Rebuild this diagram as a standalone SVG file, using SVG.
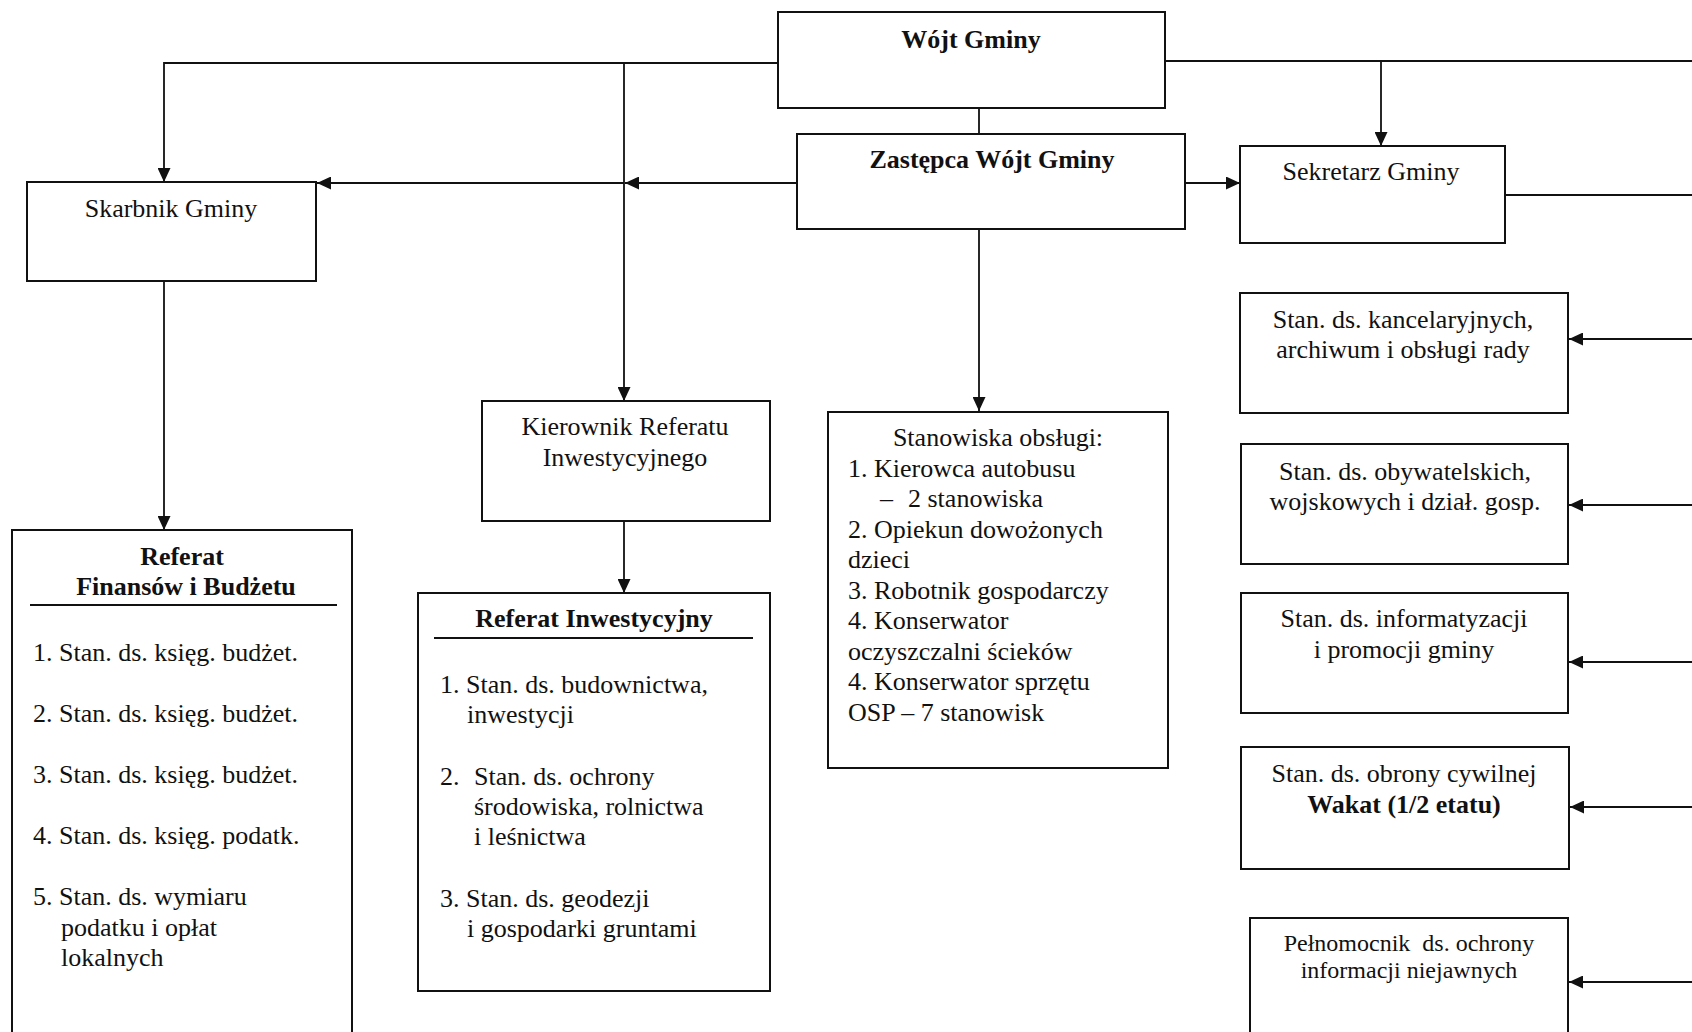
<svg xmlns="http://www.w3.org/2000/svg" width="1692" height="1032" viewBox="0 0 1692 1032">
<style>
  .box { fill: #fff; stroke: #111; stroke-width: 2; }
  .t { font-family: "Liberation Serif", "Times New Roman", serif; font-size: 26px; fill: #111; }
  .c { text-anchor: middle; }
  .b { font-weight: bold; }
  .s { font-size: 24px; }
  .ln { fill: none; stroke: #111; stroke-width: 1.8; }
  .ul { stroke: #111; stroke-width: 1.8; }
</style>
<defs>
  <marker id="ah" markerUnits="userSpaceOnUse" markerWidth="15" markerHeight="13" refX="14" refY="6.5" orient="auto">
    <path d="M0,0 L14,6.5 L0,13 z" fill="#111"/>
  </marker>
</defs>
<rect width="1692" height="1032" fill="#fff"/>

<g id="connectors">
  <path class="ln" d="M778,63 H164 V182" marker-end="url(#ah)"/>
  <path class="ln" d="M624,63 V401" marker-end="url(#ah)"/>
  <path class="ln" d="M1165,61 H1692"/>
  <path class="ln" d="M1381,61 V146" marker-end="url(#ah)"/>
  <path class="ln" d="M979,108 V134"/>
  <path class="ln" d="M797,183 H625" marker-end="url(#ah)"/>
  <path class="ln" d="M624,183 H317" marker-end="url(#ah)"/>
  <path class="ln" d="M1185,183 H1240" marker-end="url(#ah)"/>
  <path class="ln" d="M979,229 V411" marker-end="url(#ah)"/>
  <path class="ln" d="M164,281 V530" marker-end="url(#ah)"/>
  <path class="ln" d="M624,521 V593" marker-end="url(#ah)"/>
  <path class="ln" d="M1505,195 H1692"/>
  <path class="ln" d="M1692,339 H1569" marker-end="url(#ah)"/>
  <path class="ln" d="M1692,505 H1569" marker-end="url(#ah)"/>
  <path class="ln" d="M1692,662 H1569" marker-end="url(#ah)"/>
  <path class="ln" d="M1692,807 H1570" marker-end="url(#ah)"/>
  <path class="ln" d="M1692,982 H1569" marker-end="url(#ah)"/>
</g>

<g id="wojt">
  <rect class="box" x="778" y="12" width="387" height="96"/>
  <text class="t c b" x="971" y="48">Wójt Gminy</text>
</g>

<g id="zastepca">
  <rect class="box" x="797" y="134" width="388" height="95"/>
  <text class="t c b" x="992" y="168">Zastępca Wójt Gminy</text>
</g>

<g id="sekretarz">
  <rect class="box" x="1240" y="146" width="265" height="97"/>
  <text class="t c" x="1371" y="180">Sekretarz Gminy</text>
</g>

<g id="skarbnik">
  <rect class="box" x="27" y="182" width="289" height="99"/>
  <text class="t c" x="171" y="217">Skarbnik Gminy</text>
</g>

<g id="kierownik">
  <rect class="box" x="482" y="401" width="288" height="120"/>
  <text class="t c" x="625" y="435">Kierownik Referatu</text>
  <text class="t c" x="625" y="466">Inwestycyjnego</text>
</g>

<g id="stanowiska-obslugi">
  <rect class="box" x="828" y="412" width="340" height="356"/>
  <text class="t c" x="998" y="446">Stanowiska obsługi:</text>
  <text class="t" x="848" y="477">1. Kierowca autobusu</text>
  <text class="t" x="880" y="507">–<tspan x="908">2 stanowiska</tspan></text>
  <text class="t" x="848" y="538">2. Opiekun dowożonych</text>
  <text class="t" x="848" y="568">dzieci</text>
  <text class="t" x="848" y="599">3. Robotnik gospodarczy</text>
  <text class="t" x="848" y="629">4. Konserwator</text>
  <text class="t" x="848" y="660">oczyszczalni ścieków</text>
  <text class="t" x="848" y="690">4. Konserwator sprzętu</text>
  <text class="t" x="848" y="721">OSP – 7 stanowisk</text>
</g>

<g id="referat-finansow">
  <rect class="box" x="12" y="530" width="340" height="520"/>
  <text class="t c b" x="182" y="565">Referat</text>
  <text class="t c b" x="186" y="595">Finansów i Budżetu</text>
  <line class="ul" x1="30" y1="605" x2="337" y2="605"/>
  <text class="t" x="33" y="661">1. Stan. ds. księg. budżet.</text>
  <text class="t" x="33" y="722">2. Stan. ds. księg. budżet.</text>
  <text class="t" x="33" y="783">3. Stan. ds. księg. budżet.</text>
  <text class="t" x="33" y="844">4. Stan. ds. księg. podatk.</text>
  <text class="t" x="33" y="905">5. Stan. ds. wymiaru</text>
  <text class="t" x="61" y="936">podatku i opłat</text>
  <text class="t" x="61" y="966">lokalnych</text>
</g>

<g id="referat-inwestycyjny">
  <rect class="box" x="418" y="593" width="352" height="398"/>
  <text class="t c b" x="594" y="627">Referat Inwestycyjny</text>
  <line class="ul" x1="434" y1="638" x2="753" y2="638"/>
  <text class="t" x="440" y="693">1. Stan. ds. budownictwa,</text>
  <text class="t" x="467" y="723">inwestycji</text>
  <text class="t" x="440" y="785">2.<tspan x="474">Stan. ds. ochrony</tspan></text>
  <text class="t" x="474" y="815">środowiska, rolnictwa</text>
  <text class="t" x="474" y="845">i leśnictwa</text>
  <text class="t" x="440" y="907">3. Stan. ds. geodezji</text>
  <text class="t" x="467" y="937">i gospodarki gruntami</text>
</g>

<g id="stan-kancelaryjnych">
  <rect class="box" x="1240" y="293" width="328" height="120"/>
  <text class="t c" x="1403" y="328">Stan. ds. kancelaryjnych,</text>
  <text class="t c" x="1403" y="358">archiwum i obsługi rady</text>
</g>

<g id="stan-obywatelskich">
  <rect class="box" x="1241" y="444" width="327" height="120"/>
  <text class="t c" x="1405" y="480">Stan. ds. obywatelskich,</text>
  <text class="t c" x="1405" y="510">wojskowych i dział. gosp.</text>
</g>

<g id="stan-informatyzacji">
  <rect class="box" x="1241" y="593" width="327" height="120"/>
  <text class="t c" x="1404" y="627">Stan. ds. informatyzacji</text>
  <text class="t c" x="1404" y="658">i promocji gminy</text>
</g>

<g id="stan-obrony">
  <rect class="box" x="1241" y="747" width="328" height="122"/>
  <text class="t c" x="1404" y="782">Stan. ds. obrony cywilnej</text>
  <text class="t c b" x="1404" y="813">Wakat (1/2 etatu)</text>
</g>

<g id="pelnomocnik">
  <rect class="box" x="1250" y="918" width="318" height="130"/>
  <text class="t c s" x="1409" y="951" xml:space="preserve">Pełnomocnik  ds. ochrony</text>
  <text class="t c s" x="1409" y="978">informacji niejawnych</text>
</g>
</svg>
